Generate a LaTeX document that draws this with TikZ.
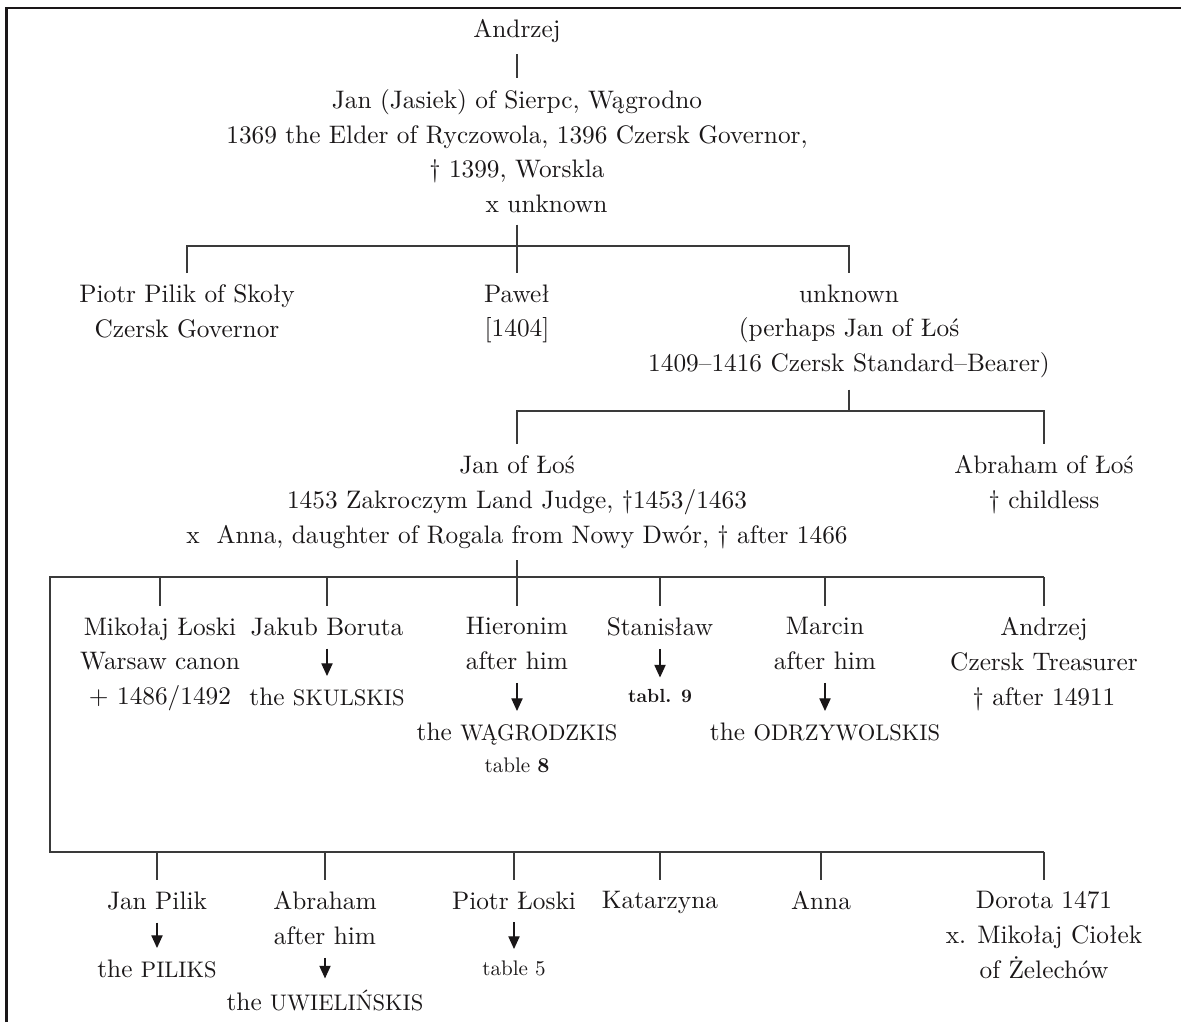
\documentclass[tikz,border=0pt]{standalone}
\usepackage{fontspec}
\setmainfont{lmroman10-regular.otf}[BoldFont=lmroman10-bold.otf]
\usepackage{tikz}
\usetikzlibrary{arrows.meta,calc}
\definecolor{ink}{HTML}{1A1718}
\definecolor{rule}{HTML}{3A3A3A}
\newcommand{\clan}[1]{{\fontsize{16}{20}\selectfont #1}}
\tikzset{
  person/.style={anchor=north, align=center, inner sep=8pt, text=ink, font=\fontsize{18}{24.8}\selectfont},
  tabref/.style={person, font=\fontsize{15}{19}\selectfont},
  rel/.style={draw=rule, line width=0.9pt},
  descent/.style={draw=ink, line width=0.9pt, shorten <=1pt, -{Triangle[length=9pt,width=8pt]}},
  pageframe/.style={draw=ink, line width=2pt}
}

\begin{document}
\begin{tikzpicture}[x=0.025cm, y=-0.025cm]
  \useasboundingbox (0,0) rectangle (1181,1022);
  \draw[pageframe] (6.5,1022) -- (6.5,8) -- (1181,8);

  % bars of the tree
  \coordinate (b1) at (0,246);
  \coordinate (b2) at (0,411);
  \coordinate (b3) at (50,577);
  \coordinate (b4) at (50,852);

  \node[person] (andrzej) at (517,8) {Andrzej};
  \node[person] (jan) at (517,77.7) {Jan (Jasiek) of Sierpc, Wągrodno\\1369 the Elder of Ryczowola, 1396 Czersk Governor,\\† 1399, Worskla\\\hspace*{42pt}x unknown};

  \node[person] (pilik) at (187,273) {Piotr Pilik of Skoły\\Czersk Governor};
  \node[person] (pawel) at (517,273) {Paweł\\{[1404]}};
  \node[person] (unk) at (849,273) {unknown\\(perhaps Jan of Łoś\\1409–1416 Czersk Standard–Bearer)};

  \node[person] (janlos) at (517,444) {Jan of Łoś\\1453 Zakroczym Land Judge, †1453/1463\\x~ Anna, daughter of Rogala from Nowy Dwór, † after 1466};
  \node[person] (abr) at (1044,444) {Abraham of Łoś\\† childless};

  % sons
  \node[person] (mik) at (160,606) {Mikołaj Łoski\\Warsaw canon\\+ 1486/1492};
  \node[person] (jak) at (327,606) {Jakub Boruta};
  \node[person] (hie) at (517,606) {Hieronim\\after him};
  \node[person] (sta) at (660,606) {Stanisław};
  \node[person] (mar) at (825,606) {Marcin\\after him};
  \node[person] (tre) at (1044,606) {Andrzej\\Czersk Treasurer\\† after 14911};

  \node[person] (jakC) at (327,676) {the \clan{SKULSKIS}};
  \node[person] (hieC) at (517,711) {the \clan{WĄGRODZKIS}};
  \node[tabref, anchor=base] (hieT) at (517,772) {table \textbf{8}};
  \node[tabref, font=\fontsize{13.5}{17}\selectfont\bfseries] (staT) at (660,677.5) {tabl. 9};
  \node[person] (marC) at (825,711) {the \clan{ODRZYWOLSKIS}};

  % second row
  \node[person] (pil) at (157,880) {Jan Pilik};
  \node[person] (abm) at (325,880) {Abraham\\after him};
  \node[person] (plo) at (514,880) {Piotr Łoski};
  \node[person] (kat) at (660,880) {Katarzyna};
  \node[person] (anna) at (821,880) {Anna};
  \node[person] (dor) at (1044,880) {Dorota 1471\\x. Mikołaj Ciołek\\of Żelechów};

  \node[person] (pilC) at (157,948) {the \clan{PILIKS}};
  \node[person] (abmC) at (325,978.4) {the \clan{UWIELIŃSKIS}};
  \node[tabref] (ploT) at (514,949) {table 5};

  \draw[rel] (andrzej.south) -- (jan.north);
  \draw[rel] (jan.south) -- (pawel.north);
  \draw[rel] (pilik.north) |- (b1 -| unk.north) -- (unk.north);
  \draw[rel] (unk.south) -- (unk.south |- b2);
  \draw[rel] (janlos.north) |- (b2 -| abr.north) -- (abr.north);
  \draw[rel] (janlos.south) -- (janlos.south |- b3);
  \draw[rel] (tre.north |- b3) -- (b3) -- (b4) -- (dor.north |- b4);
  \foreach \n in {mik,jak,hie,sta,mar,tre}
    \draw[rel] (\n.north |- b3) -- (\n.north);
  \foreach \n in {pil,abm,plo,kat,anna,dor}
    \draw[rel] (\n.north |- b4) -- (\n.north);
  \foreach \a/\b in {jak/jakC,hie/hieC,sta/staT,mar/marC,pil/pilC,abm/abmC,plo/ploT}
    \draw[descent] (\a.south) -- (\b.north);
\end{tikzpicture}
\end{document}
